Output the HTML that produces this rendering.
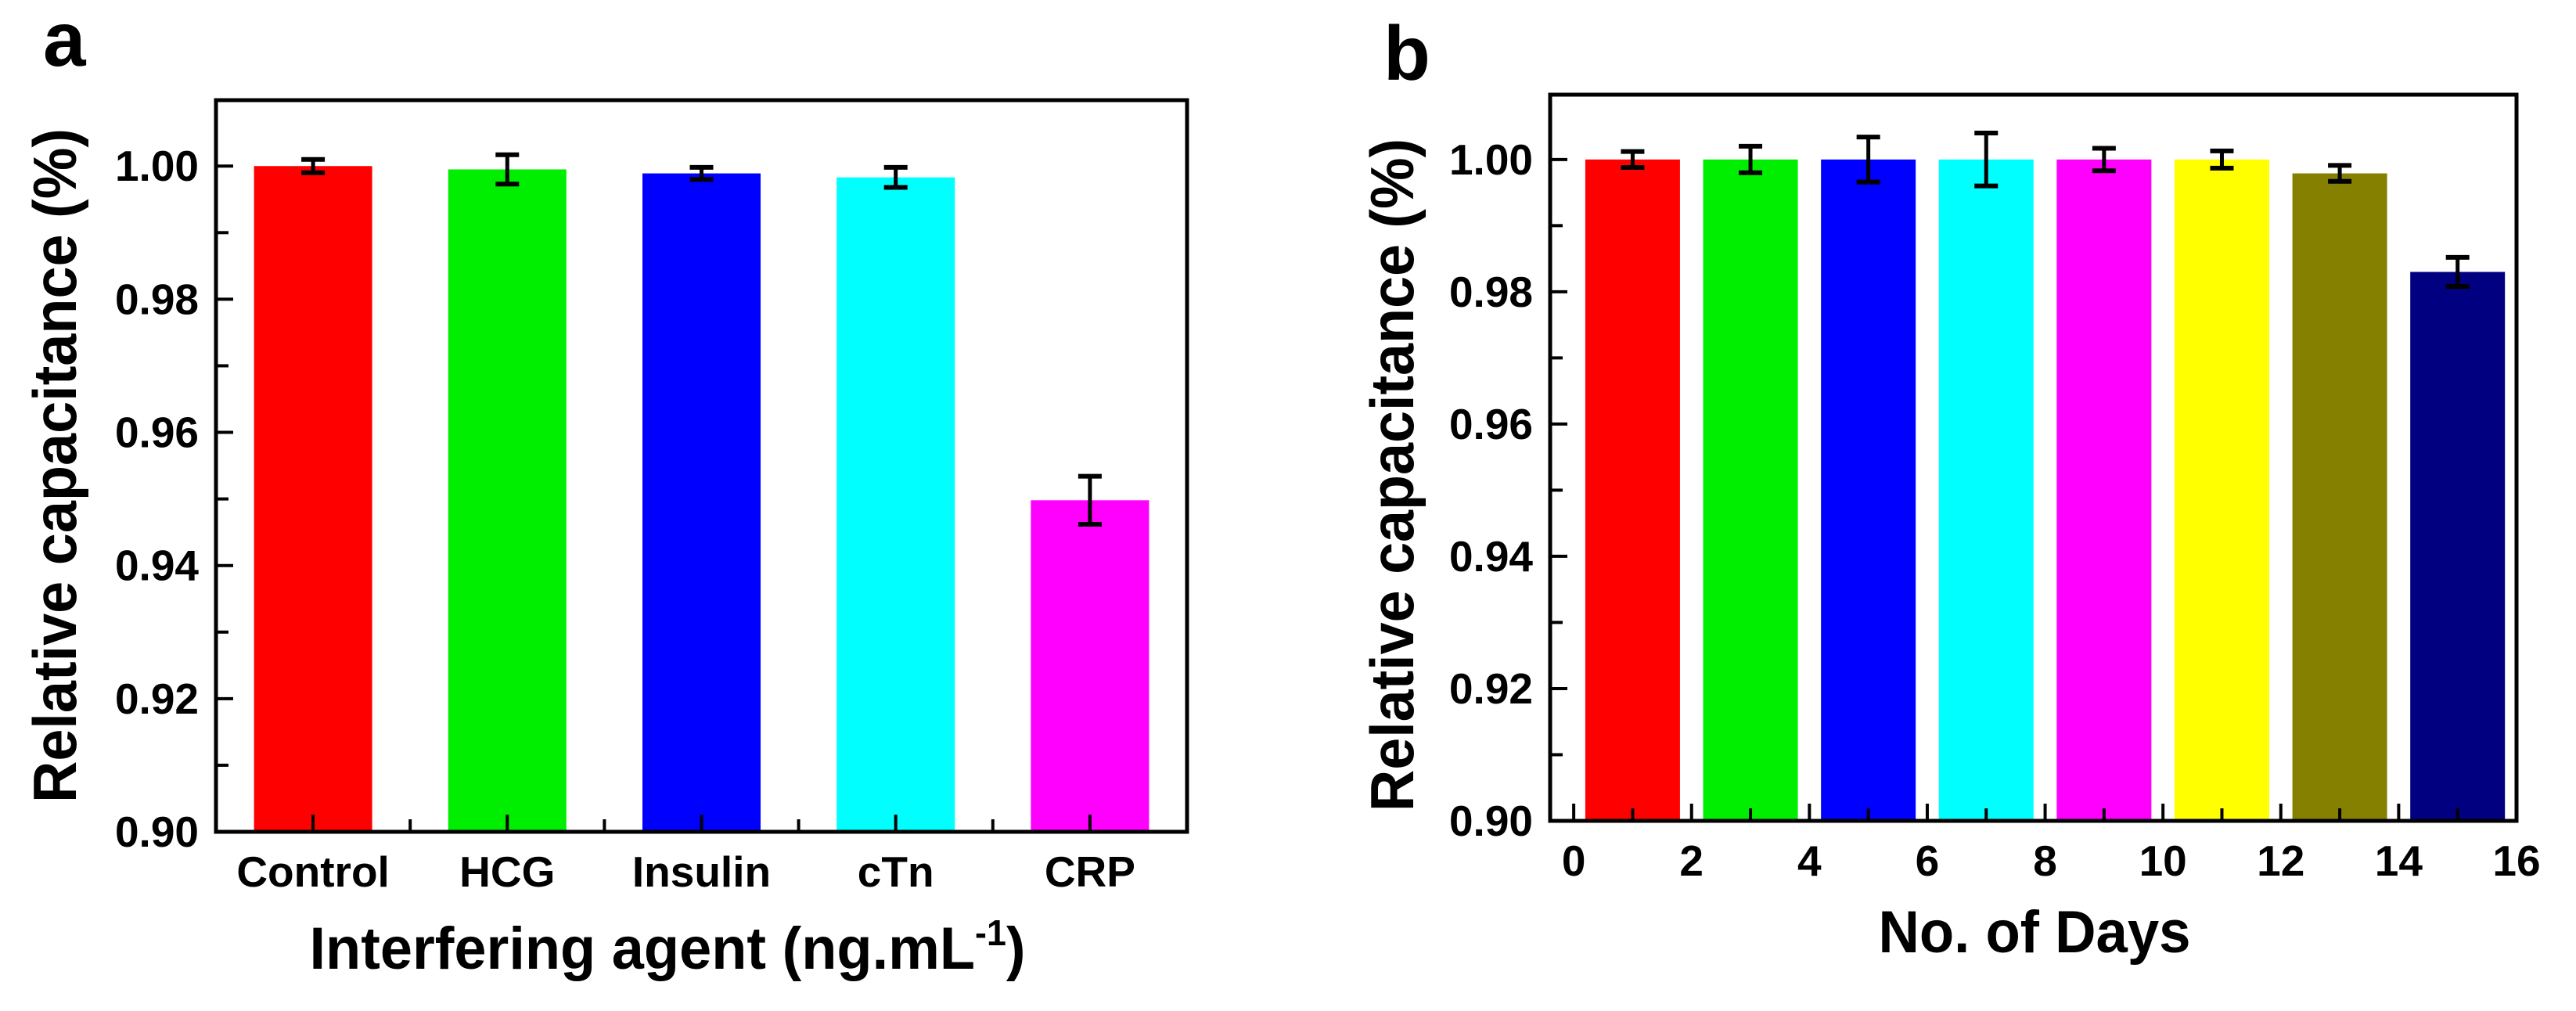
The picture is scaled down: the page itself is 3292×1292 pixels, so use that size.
<!DOCTYPE html>
<html><head><meta charset="utf-8"><style>
html,body{margin:0;padding:0;background:#fff;}
svg{display:block;font-family:"Liberation Sans",Arial,sans-serif;font-weight:bold;}
</style></head><body>
<svg id="fig" width="3292" height="1292" viewBox="0 0 3292 1292" xmlns="http://www.w3.org/2000/svg">
<rect width="3292" height="1292" fill="#fff"/>
<g id="pa"></g>
<g id="pb"></g>
</svg>
<script>
// Panel a data
const catsA = ["Control","HCG","Insulin","cTn","CRP"];
const valsA = [1.000, 0.9995, 0.9989, 0.9983, 0.9498];
const errA = [0.0010, 0.0022, 0.0009, 0.0015, 0.0036];
const colorsA = ["#ff0000","#00ee00","#0000ff","#00ffff","#ff00ff"];
// Panel b data
const daysB = [1,3,5,7,9,11,13,15];
const valsB = [1.000, 1.000, 1.000, 1.000, 1.000, 1.000, 0.9979, 0.9830];
const errB = [0.0012, 0.0020, 0.0034, 0.0040, 0.0017, 0.0013, 0.0012, 0.0022];
const colorsB = ["#ff0000","#00ee00","#0000ff","#00ffff","#ff00ff","#ffff00","#858000","#000080"];
const yTicks = [0.90,0.92,0.94,0.96,0.98,1.00];
const xTicksB = [0,2,4,6,8,10,12,14,16];

const NS="http://www.w3.org/2000/svg";
function mk(parent,tag,attrs,text){const e=document.createElementNS(NS,tag);for(const k in attrs)e.setAttribute(k,attrs[k]);if(text!==undefined)e.textContent=text;parent.appendChild(e);return e;}

function panel(g, o){
  const yS=v=>o.bottom-(v-0.90)/(o.ymax-0.90)*(o.bottom-o.top);
  const xS=v=>o.left+(v-o.xmin)/(o.xmax-o.xmin)*(o.right-o.left);
  // bars
  o.xs.forEach((x,i)=>{
    const r=mk(g,'rect',{x:xS(x)-o.bw/2,y:yS(o.vals[i]),width:o.bw,height:o.bottom-yS(o.vals[i]),fill:o.colors[i]});
    
    
  });
  // error bars
  o.xs.forEach((x,i)=>{
    const cx=xS(x),y1=yS(o.vals[i]+o.errs[i]),y2=yS(o.vals[i]-o.errs[i]);
    const eg=mk(g,'g',{stroke:'#000','stroke-width':5});
    
    
    mk(eg,'line',{x1:cx,x2:cx,y1:y1,y2:y2});
    mk(eg,'line',{x1:cx-15,x2:cx+15,y1:y1,y2:y1,'stroke-width':6});
    mk(eg,'line',{x1:cx-15,x2:cx+15,y1:y2,y2:y2,'stroke-width':6});
  });
  // frame
  const fr=mk(g,'rect',{x:o.left,y:o.top,width:o.right-o.left,height:o.bottom-o.top,fill:'none',stroke:'#000','stroke-width':5});
  
  
  // y ticks
  const yt=mk(g,'g',{stroke:'#000','stroke-width':4});
  
  
  for(let k=0;k<=10;k++){const v=0.90+k*0.01;const y=yS(v);mk(yt,'line',{x1:o.left,x2:o.left+(k%2==0?22:16),y1:y,y2:y});}
  yTicks.forEach(v=>{
    const t=mk(g,'text',{x:o.left-22,y:yS(v)+19,'text-anchor':'end','font-size':55},v.toFixed(2));
    
    
  });
  // x ticks
  const xt=mk(g,'g',{stroke:'#000','stroke-width':4});
  
  
  o.major.forEach(v=>mk(xt,'line',{x1:xS(v),x2:xS(v),y1:o.bottom,y2:o.bottom-22}));
  o.minor.forEach(v=>mk(xt,'line',{x1:xS(v),x2:xS(v),y1:o.bottom,y2:o.bottom-16}));
  o.xlabels.forEach((l,i)=>{
    const t=mk(g,'text',{x:xS(o.xlabelPos[i]),y:o.bottom+70,'text-anchor':'middle','font-size':55},l);
    
    
  });
  // titles
  const xtT=mk(g,'text',{x:o.xtx,y:o.xty,'text-anchor':'middle','font-size':76,textLength:o.xtl,lengthAdjust:'spacingAndGlyphs'});
  xtT.innerHTML=o.xtitle;
  
  
  const ytT=mk(g,'text',{x:0,y:0,'text-anchor':'middle','font-size':78,textLength:o.ytl,lengthAdjust:'spacingAndGlyphs',transform:`translate(${o.ytx},${o.yty}) rotate(-90)`},'Relative capacitance (%)');
  
  
  const pl=mk(g,'text',{x:o.plx,y:o.ply,'font-size':98},o.plabel);
  
  
}

panel(document.getElementById('pa'),{
  left:276,right:1517,top:128,bottom:1063,ymax:1.0099,xmin:0.5,xmax:5.5,
  xs:catsA.map((c,i)=>i+1),vals:valsA,errs:errA,colors:colorsA,names:catsA.map(c=>c.toLowerCase()),bw:151,
  major:catsA.map((c,i)=>i+1),minor:[1.5,2.5,3.5,4.5],
  xlabels:catsA,xlabelPos:catsA.map((c,i)=>i+1),
  xtitle:'Interfering agent (ng.mL<tspan dy="-30" font-size="46">-1</tspan><tspan dy="30">)</tspan>',xtx:853,xty:1238,xtl:915,
  ytx:97,yty:595,ytl:862,plabel:'a',plx:55,ply:84
});
panel(document.getElementById('pb'),{
  left:1981,right:3216,top:121,bottom:1049,ymax:1.0098,xmin:-0.4,xmax:16,
  xs:daysB,vals:valsB,errs:errB,colors:colorsB,names:daysB.map(d=>'day-'+d),bw:121,
  major:xTicksB,minor:daysB,
  xlabels:xTicksB.map(String),xlabelPos:xTicksB,
  xtitle:'No. of Days',xtx:2600,xty:1217,xtl:399,
  ytx:1806,yty:607,ytl:860,plabel:'b',plx:1768,ply:102
});
</script>
</body></html>
